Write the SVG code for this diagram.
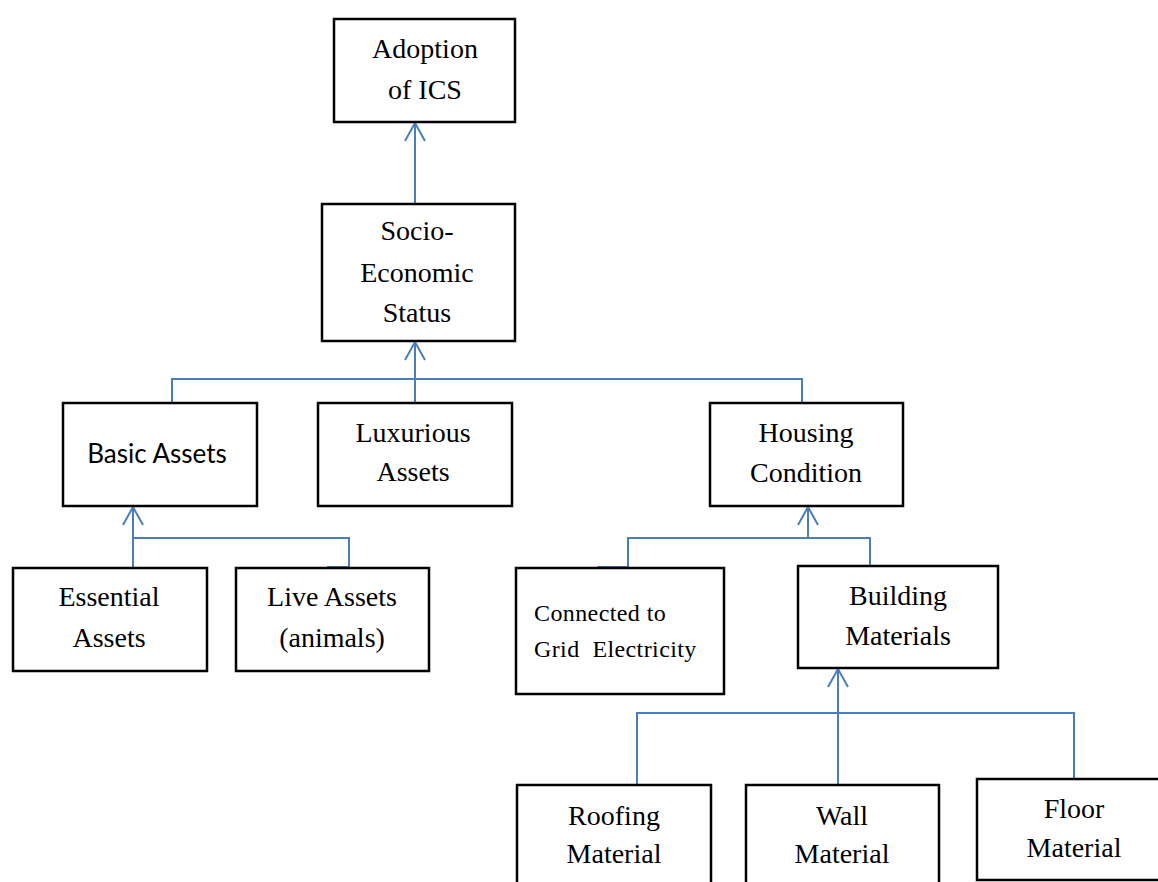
<svg xmlns="http://www.w3.org/2000/svg" width="1158" height="882" viewBox="0 0 1158 882">
<style>
.box{fill:#fff;stroke:#000;stroke-width:2.5}
.t{font-family:"Liberation Serif","Times New Roman",serif;font-size:28px;fill:#000;text-anchor:middle}
.s{font-family:Lato,"Open Sans",sans-serif;font-size:26px;fill:#000;text-anchor:middle}
.c{font-family:"Liberation Serif","Times New Roman",serif;font-size:24px;fill:#000;letter-spacing:0.4px}
.ln{fill:none;stroke:#4a7ebb;stroke-width:2}
</style>
<rect width="1158" height="882" fill="#fff"/>
<g id="connectors">
<path class="ln" d="M415,204 V123 M405,141 L415,123 L425,141"/>
<path class="ln" d="M415,403 V342 M405,360 L415,342 L425,360"/>
<path class="ln" d="M152,403 H172 V379 H802 V403"/>
<path class="ln" d="M133,568 V507 M123,525 L133,507 L143,525"/>
<path class="ln" d="M133,538 H349 V567 H327"/>
<path class="ln" d="M808,538 V507 M798,525 L808,507 L818,525"/>
<path class="ln" d="M597,567 H628 V538 H870 V566 H877"/>
<path class="ln" d="M838,785 V669 M828,687 L838,669 L848,687"/>
<path class="ln" d="M637,785 V713 H1074 V779"/>
</g>
<g id="adoption"><rect class="box" x="334" y="19" width="181" height="103"/><text class="t" x="425" y="58">Adoption</text><text class="t" x="425" y="99">of ICS</text></g>
<g id="socio"><rect class="box" x="322" y="204" width="193" height="137"/><text class="t" x="417" y="240">Socio-</text><text class="t" x="417" y="282">Economic</text><text class="t" x="417" y="322">Status</text></g>
<g id="basic"><rect class="box" x="63" y="403" width="194" height="103"/><text class="s" x="157" y="463">Basic Assets</text></g>
<g id="luxurious"><rect class="box" x="318" y="403" width="194" height="103"/><text class="t" x="413" y="442">Luxurious</text><text class="t" x="413" y="481">Assets</text></g>
<g id="housing"><rect class="box" x="710" y="403" width="193" height="103"/><text class="t" x="806" y="442">Housing</text><text class="t" x="806" y="482">Condition</text></g>
<g id="essential"><rect class="box" x="13" y="568" width="194" height="103"/><text class="t" x="109" y="606">Essential</text><text class="t" x="109" y="647">Assets</text></g>
<g id="live"><rect class="box" x="236" y="568" width="193" height="103"/><text class="t" x="332" y="606">Live Assets</text><text class="t" x="332" y="647">(animals)</text></g>
<g id="grid"><rect class="box" x="516" y="568" width="208" height="126"/><text class="c" x="534" y="621">Connected to</text><text class="c" x="534" y="657" xml:space="preserve">Grid  Electricity</text></g>
<g id="building"><rect class="box" x="798" y="566" width="200" height="102"/><text class="t" x="898" y="605">Building</text><text class="t" x="898" y="645">Materials</text></g>
<g id="roofing"><rect class="box" x="517" y="785" width="194" height="120"/><text class="t" x="614" y="825">Roofing</text><text class="t" x="614" y="863">Material</text></g>
<g id="wall"><rect class="box" x="746" y="785" width="193" height="120"/><text class="t" x="842" y="825">Wall</text><text class="t" x="842" y="863">Material</text></g>
<g id="floor"><rect class="box" x="977" y="779" width="200" height="101"/><text class="t" x="1074" y="818">Floor</text><text class="t" x="1074" y="857">Material</text></g>
</svg>
